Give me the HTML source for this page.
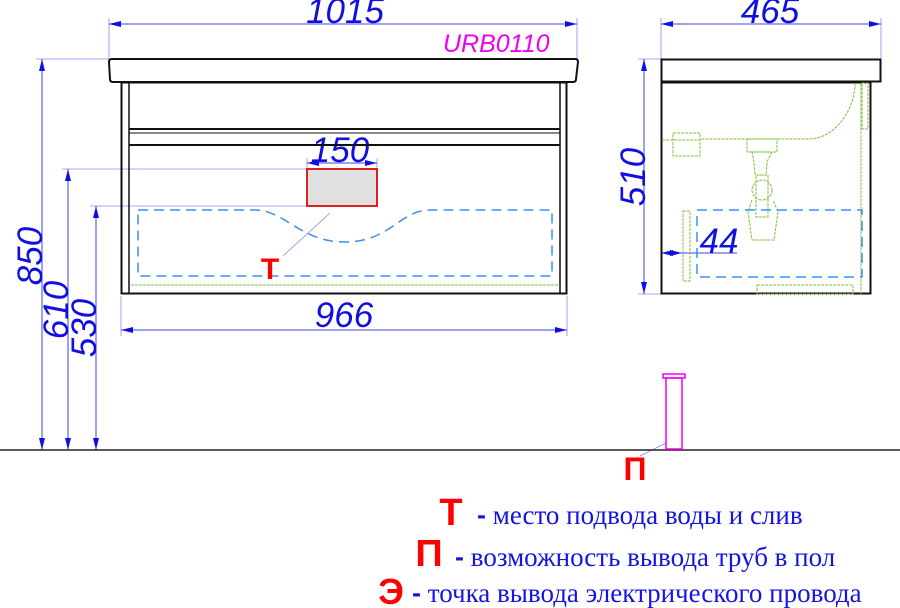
<!DOCTYPE html>
<html><head><meta charset="utf-8"><style>
html,body{margin:0;padding:0;background:#fff;}
svg{display:block;}
.dim{font-family:"Liberation Sans",sans-serif;font-style:italic;fill:#1010e0;font-size:35px;}
.leg{font-family:"Liberation Serif","DejaVu Serif",serif;fill:#1515e0;font-size:27px;}
.red{font-family:"Liberation Sans",sans-serif;font-weight:bold;fill:#f00;}
</style></head><body>
<svg width="900" height="608" viewBox="0 0 900 608" xmlns="http://www.w3.org/2000/svg">
<defs>
<marker id="a" markerWidth="12" markerHeight="6" refX="12" refY="3" orient="auto-start-reverse" markerUnits="userSpaceOnUse"><path d="M0,0 L12,3 L0,6 z" fill="#1010e0"/></marker>
</defs>
<g stroke="#8a8af0" stroke-width="0.8" fill="none">
<line x1="109" y1="18" x2="109" y2="60"/><line x1="577" y1="18" x2="577" y2="60"/>
<line x1="121" y1="296" x2="121" y2="336"/><line x1="567" y1="296" x2="567" y2="336"/>
<line x1="36" y1="59" x2="109" y2="59"/>
<line x1="62" y1="169" x2="307" y2="169"/>
<line x1="90" y1="206" x2="307" y2="206"/>
<line x1="661" y1="18" x2="661" y2="60"/><line x1="881" y1="18" x2="881" y2="60"/>
<line x1="638" y1="59" x2="661" y2="59"/><line x1="638" y1="294" x2="661" y2="294"/>
<line x1="307" y1="158" x2="307" y2="169"/><line x1="377" y1="158" x2="377" y2="169"/>
<line x1="330" y1="213" x2="283" y2="256"/>
<line x1="666" y1="443" x2="640" y2="456"/>
</g>
<g stroke="#4040e0" stroke-width="1" fill="none">
<line x1="109" y1="24" x2="577" y2="24" marker-start="url(#a)" marker-end="url(#a)"/>
<line x1="121" y1="330" x2="567" y2="330" marker-start="url(#a)" marker-end="url(#a)"/>
<line x1="307" y1="163" x2="377" y2="163" marker-start="url(#a)" marker-end="url(#a)"/>
<line x1="42" y1="59" x2="42" y2="450" marker-start="url(#a)" marker-end="url(#a)"/>
<line x1="68" y1="169" x2="68" y2="450" marker-start="url(#a)" marker-end="url(#a)"/>
<line x1="96" y1="206" x2="96" y2="450" marker-start="url(#a)" marker-end="url(#a)"/>
<line x1="661" y1="24" x2="881" y2="24" marker-start="url(#a)" marker-end="url(#a)"/>
<line x1="644" y1="59" x2="644" y2="294" marker-start="url(#a)" marker-end="url(#a)"/>
<line x1="661" y1="253" x2="682" y2="253" marker-start="url(#a)" marker-end="url(#a)"/>
<line x1="682" y1="253" x2="737" y2="253"/>
</g>
<text class="dim" x="345" y="23" text-anchor="middle">1015</text>
<text class="dim" x="344" y="327" text-anchor="middle">966</text>
<text class="dim" x="340" y="162" text-anchor="middle">150</text>
<text class="dim" x="770" y="23" text-anchor="middle">465</text>
<text class="dim" x="719" y="253" text-anchor="middle">44</text>
<text class="dim" transform="translate(42,256) rotate(-90)" text-anchor="middle">850</text>
<text class="dim" transform="translate(68,310) rotate(-90)" text-anchor="middle">610</text>
<text class="dim" transform="translate(96,328) rotate(-90)" text-anchor="middle">530</text>
<text class="dim" transform="translate(645,177) rotate(-90)" text-anchor="middle">510</text>
<text x="443" y="52" style="font-family:'Liberation Sans',sans-serif;font-style:italic;font-size:25px;fill:#f000f0">URB0110</text>
<g stroke="#111" fill="none">
<path d="M112,59 H575 Q578,59 578,62 L576,79 Q576,82 573,82 H113 Q110,82 110,79 L109,62 Q109,59 112,59 Z" stroke-width="2"/>
<rect x="121.5" y="82.5" width="445" height="211" stroke-width="2"/>
<line x1="129" y1="83" x2="129" y2="293" stroke-width="1.5"/>
<line x1="560" y1="83" x2="560" y2="293" stroke-width="1.5"/>
<line x1="129" y1="129" x2="560" y2="129" stroke-width="2"/>
<line x1="129" y1="133" x2="560" y2="133" stroke-width="1"/>
<line x1="129" y1="145" x2="560" y2="145" stroke-width="2"/>
</g>
<line x1="131" y1="285" x2="558" y2="285" stroke="#7ac040" stroke-width="1" stroke-dasharray="3,1"/>
<rect x="307" y="169" width="70" height="37" fill="#e0e0e0" stroke="#e02020" stroke-width="2"/>
<path d="M138,210 H255 C285,210 300,242 345,242 C390,242 400,210 430,210 H552 V276 H138 Z" fill="none" stroke="#3a90f0" stroke-width="1.5" stroke-dasharray="10,6"/>
<text class="red" x="270" y="279" font-size="30" text-anchor="middle">Т</text>
<g stroke="#111" fill="none">
<rect x="661.5" y="59.5" width="219" height="22" stroke-width="2"/>
<rect x="661.5" y="82.5" width="209" height="211" stroke-width="2"/>
</g>
<g stroke="#80c040" stroke-width="1" fill="none" stroke-dasharray="3,1">
<path d="M855,83 C855,110 835,138 810,139 H700"/>
<line x1="662" y1="140" x2="700" y2="140"/>
<rect x="673" y="133" width="27" height="23"/>
<rect x="747" y="139" width="30" height="13"/>
<path d="M752,152 H772 L767,162 L766,175 H755 L754,162 Z"/>
<rect x="756" y="175" width="12" height="42"/>
<circle cx="762" cy="190" r="10"/>
<path d="M752,200 L748,212 L752,240 H774 L778,212 L773,200"/>
<line x1="861" y1="83" x2="861" y2="294"/>
<rect x="862" y="83" width="6" height="46"/>
<rect x="683" y="211" width="7" height="70"/>
<rect x="757" y="285" width="96" height="9"/>
</g>
<rect x="697" y="210" width="165" height="67" fill="none" stroke="#3a90f0" stroke-width="1.5" stroke-dasharray="10,6"/>
<line x1="0" y1="450" x2="900" y2="450" stroke="#222" stroke-width="1.5"/>
<g stroke="#f000f0" stroke-width="1.5" fill="none">
<rect x="666" y="378" width="16" height="71"/>
<rect x="663" y="374" width="22" height="4"/>
</g>
<text class="red" x="635" y="480" font-size="32" text-anchor="middle">П</text>
<text class="red" x="451" y="525" font-size="38" text-anchor="middle">Т</text>
<text class="leg" x="477" y="524"><tspan style="font-family:'Liberation Sans',sans-serif;font-weight:bold">-</tspan> место подвода воды и слив</text>
<text class="red" x="429" y="566" font-size="38" text-anchor="middle">П</text>
<text class="leg" x="455" y="566"><tspan style="font-family:'Liberation Sans',sans-serif;font-weight:bold">-</tspan> возможность вывода труб в пол</text>
<text class="red" x="391" y="604" font-size="36" text-anchor="middle">Э</text>
<text class="leg" x="412" y="602"><tspan style="font-family:'Liberation Sans',sans-serif;font-weight:bold">-</tspan>  точка вывода электрического провода</text>
</svg>
</body></html>
